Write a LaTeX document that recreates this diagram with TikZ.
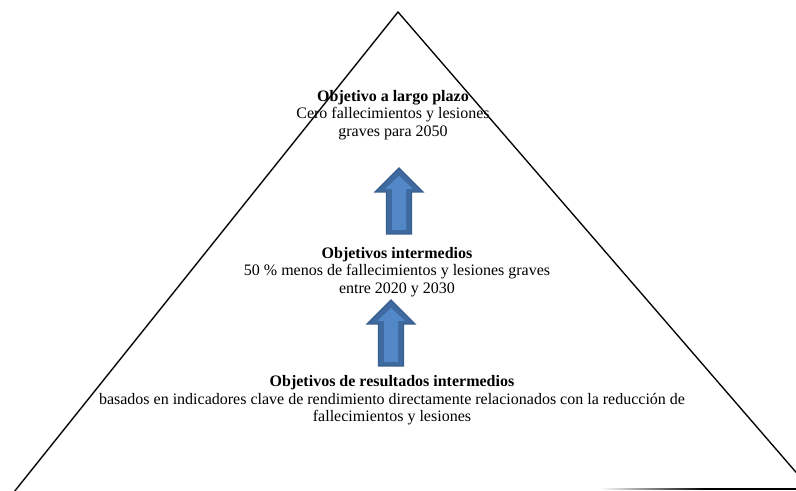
\documentclass[tikz,border=0pt]{standalone}
\usepackage{fontspec}
\setmainfont{Liberation Serif}
\definecolor{arrowedge}{HTML}{375D8C}
\definecolor{arrowdark}{HTML}{3E6AA0}
\definecolor{arrowlight}{HTML}{5388C8}
\tikzset{
  edge/.style={line width=1pt, black},
  label/.style={align=center, inner sep=0pt, font=\fontsize{12}{13.2}\selectfont},
}
\newcommand\myuparrow[1]{%
  \begin{scope}[shift={#1}]
    \filldraw[fill=arrowdark, draw=arrowedge, line width=0.8pt, line join=miter]
      (0,0) -- (24,24) -- (12.5,24) -- (12.5,66) -- (-12.5,66) -- (-12.5,24) -- (-24,24) -- cycle;
    \fill[arrowlight] (0,8) -- (14,21) -- (7,21) -- (7,62) -- (-7,62) -- (-7,21) -- (-14,21) -- cycle;
  \end{scope}}
\begin{document}
\begin{tikzpicture}[x=0.75pt,y=-0.75pt]
\useasboundingbox (0,0) rectangle (796,491);
\begin{scope}
\clip (0,0) rectangle (796,491);
\coordinate (apex) at (398,12);
\coordinate (bl) at (-8.4,520);
\coordinate (br) at (820,500);
\draw[edge] (bl) -- (apex) -- (br);
\coordinate (bs) at (600,489);
\coordinate (bm) at (705,489);
\coordinate (be) at (796,489);
\shade[left color=white, right color=black] (600,488.3) rectangle (705,489.9);
\fill[black] (705,488.3) rectangle (796,489.9);
\end{scope}

\myuparrow{(399,168)}
\myuparrow{(391,300)}

\node[label] (top) at (393,115) {\textbf{Objetivo a largo plazo}\\Cero fallecimientos y lesiones\\graves para 2050};
\node[label] (mid) at (397,272) {\textbf{Objetivos intermedios}\\50 \% menos de fallecimientos y lesiones graves\\entre 2020 y 2030};
\node[label] (bot) at (392,400.5) {\textbf{Objetivos de resultados intermedios}\\basados en indicadores clave de rendimiento directamente relacionados con la reducción de\\fallecimientos y lesiones};
\end{tikzpicture}
\end{document}
